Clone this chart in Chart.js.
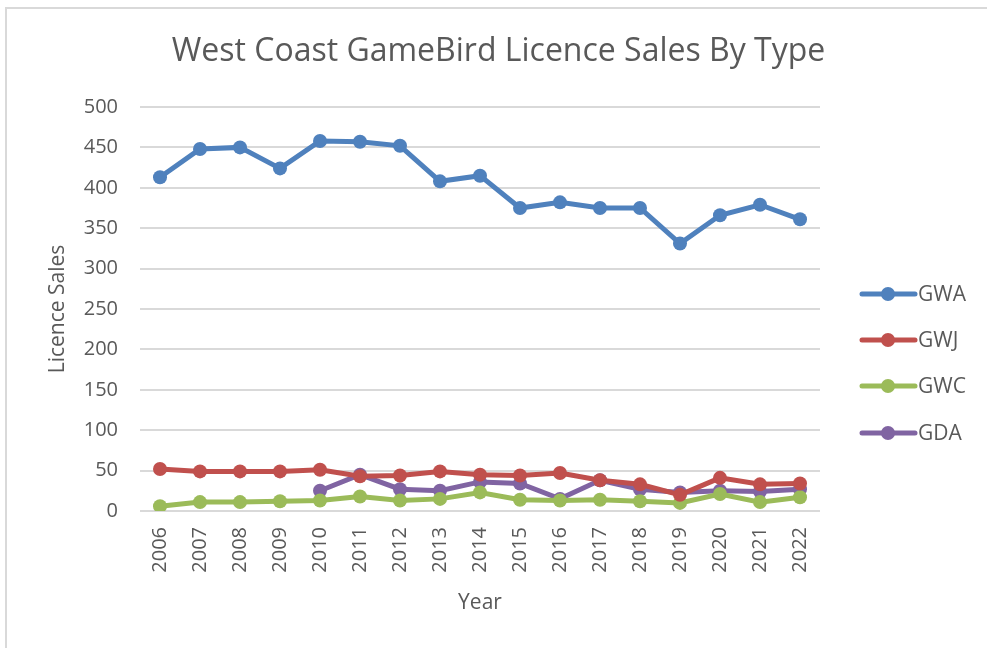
<!DOCTYPE html>
<html>
<head>
<meta charset="utf-8">
<script src="https://cdn.jsdelivr.net/npm/chart.js@4.4.1/dist/chart.umd.min.js"></script>
<style>
  body { margin: 0; background: #fff; }
  #wrap { position: relative; width: 987px; height: 648px; }
</style>
</head>
<body>
<div id="wrap"><canvas id="myChart" width="987" height="648"></canvas></div>
<script>
const years = ['2006','2007','2008','2009','2010','2011','2012','2013','2014','2015','2016','2017','2018','2019','2020','2021','2022'];
const gwa = [413, 448, 450, 424, 458, 457, 452, 408, 415, 375, 382, 375, 375, 331, 366, 379, 361];
const gwj = [52, 49, 49, 49, 51, 43, 44, 49, 45, 44, 47, 38, 33, 20, 41, 33, 34];
const gwc = [6, 11, 11, 12, 13, 18, 13, 15, 23, 14, 13, 14, 12, 10, 21, 11, 17];
const gda = [null, null, null, null, 25, 45, 27, 25, 36, 34, 15, 38, 27, 23, 25, 24, 27];
const yTicks = [0, 50, 100, 150, 200, 250, 300, 350, 400, 450, 500];

const FONT = '"Open Sans"';
const grey = '#595959';

function series(label, data, color) {
    return {
        label: label,
        data: data,
        borderColor: color,
        backgroundColor: color,
        borderWidth: 5,
        pointRadius: 7,
        pointHoverRadius: 7,
        pointBorderWidth: 0,
        tension: 0,
        spanGaps: false
    };
}

// frame round the picture plus a legend drawn as line + dot, like the original
const framePlugin = {
    id: 'frame',
    beforeDraw(chart) {
        const ctx = chart.ctx;
        ctx.save();
        ctx.fillStyle = '#fff';
        ctx.fillRect(0, 0, chart.width, chart.height);
        ctx.strokeStyle = '#d9d9d9';
        ctx.lineWidth = 2;
        ctx.beginPath();
        ctx.moveTo(6, chart.height);
        ctx.lineTo(6, 8);
        ctx.lineTo(chart.width, 8);
        ctx.stroke();
        ctx.restore();
    },
    afterDraw(chart) {
        const ctx = chart.ctx;
        const rows = [294, 340, 386, 433];
        ctx.save();
        chart.data.datasets.forEach((ds, i) => {
            const y = rows[i];
            ctx.strokeStyle = ds.borderColor;
            ctx.lineWidth = 5;
            ctx.lineCap = 'round';
            ctx.beginPath();
            ctx.moveTo(862, y);
            ctx.lineTo(915, y);
            ctx.stroke();
            ctx.fillStyle = ds.borderColor;
            ctx.beginPath();
            ctx.arc(888, y, 7, 0, Math.PI * 2);
            ctx.fill();
            ctx.fillStyle = grey;
            ctx.font = '21px ' + FONT;
            ctx.textBaseline = 'middle';
            ctx.textAlign = 'left';
            ctx.fillText(ds.label, 918, y + 1);
        });
        ctx.restore();
    }
};

const ctx = document.getElementById('myChart').getContext('2d');
const myChart = new Chart(ctx, {
    type: 'line',
    data: {
        labels: years,
        datasets: [
            series('GWA', gwa, '#4f81bd'),
            series('GWJ', gwj, '#c0504d'),
            series('GWC', gwc, '#9bbb59'),
            series('GDA', gda, '#8064a2')
        ]
    },
    options: {
        responsive: false,
        animation: false,
        layout: { padding: { left: 10, right: 0, top: 14, bottom: 0 } },
        plugins: {
            legend: { display: false },
            tooltip: { enabled: false },
            title: {
                display: true,
                text: 'West Coast GameBird Licence Sales By Type',
                color: grey,
                font: { family: FONT, size: 32, weight: 'normal' },
                padding: { top: 19, bottom: 35.6 }
            }
        },
        scales: {
            x: {
                offset: true,
                grid: { display: false },
                border: { display: false },
                ticks: {
                    color: grey,
                    font: { family: FONT, size: 20 },
                    minRotation: 90,
                    maxRotation: 90,
                    autoSkip: false,
                    padding: 8
                },
                title: {
                    display: true,
                    text: 'Year',
                    color: grey,
                    font: { family: FONT, size: 21 },
                    padding: { top: 10, bottom: 32 }
                },
                afterFit(scale) { scale.height = 137; }
            },
            y: {
                min: 0,
                max: 500,
                afterBuildTicks(scale) { scale.ticks = yTicks.map(v => ({ value: v })); },
                grid: { color: '#d9d9d9', lineWidth: 2, drawTicks: false },
                border: { display: false },
                ticks: {
                    color: grey,
                    font: { family: FONT, size: 20 },
                    padding: 22
                },
                title: {
                    display: true,
                    text: 'Licence Sales',
                    color: grey,
                    font: { family: FONT, size: 21 },
                    padding: { top: 35, bottom: 0 }
                },
                afterFit(scale) { scale.width = 130; }
            },
            space: {
                position: 'right',
                display: true,
                grid: { display: false },
                border: { display: false },
                ticks: { display: false },
                afterFit(scale) { scale.width = 167; }
            }
        }
    },
    plugins: [framePlugin]
});
</script>
</body>
</html>
